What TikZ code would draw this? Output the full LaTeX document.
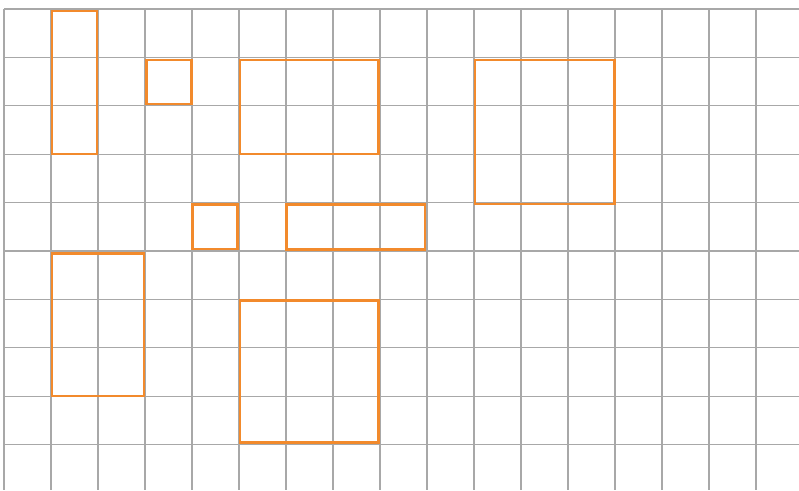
\documentclass[tikz,border=0pt]{standalone}
\usepackage{xcolor}
\usepackage{tikz}
\definecolor{gridgray}{HTML}{A8A8A8}
\definecolor{boxorange}{HTML}{F28A2C}

\begin{document}
\begin{tikzpicture}[
    x=1pt, y=-1pt,
    gridline/.style = {draw=gridgray, line width=1.2pt},
    cellbox/.style = {draw=boxorange, line width=2.6pt}
]
    \useasboundingbox (0,0) rectangle (799,490);

    % Grid
    \foreach \i in {0,...,16}
        \draw [gridline] ({4+47*\i},9) -- ({4+47*\i},490);
    \foreach \j in {0,...,9}
        \draw [gridline] (4,{9+48.4*\j}) -- (799,{9+48.4*\j});

    % Boxes
    \foreach \l/\t/\r/\b in {51.8/11/96.8/153.8, 146.3/60/191.3/104,
                             239.8/60/378.5/154, 475/60/614.3/203.8,
                             192.3/204.2/237.5/249, 286.4/204.2/425/249.5,
                             52/253.3/144/396, 240/300.5/378.3/442.3}
        \draw [cellbox] (\l,\t) rectangle (\r,\b);

\end{tikzpicture}
\end{document}
